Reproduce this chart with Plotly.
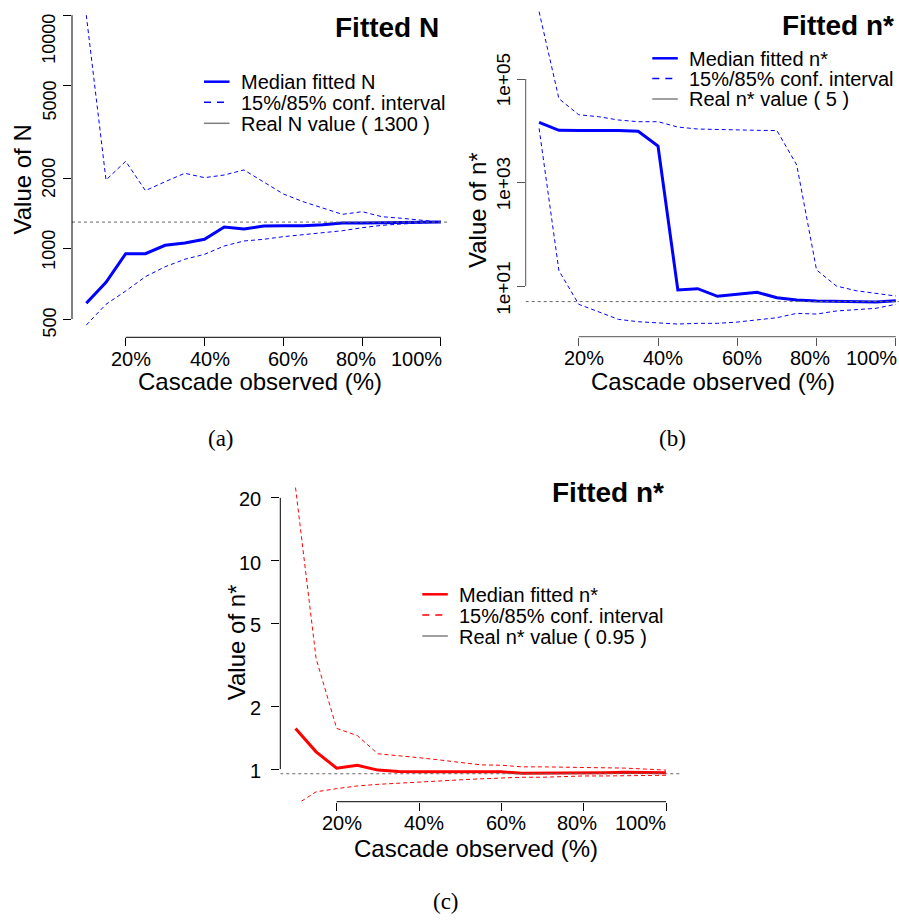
import math
import plotly.graph_objects as go

W, H = 899, 920
FONT = "Liberation Sans"

# share of the cascade observed (%)
observed = [10, 15, 20, 25, 30, 35, 40, 45, 50, 55, 60, 65, 70, 75, 80, 85, 90, 95, 100]
x_ticks = [20, 40, 60, 80, 100]
x_tick_text = ["20%", "40%", "60%", "80%", "100%"]
x_label_pos = [21.4, 41.3, 61.1, 78.4, 93.8]

# (a) fitted N
N_median = [584, 718, 952, 952, 1034, 1058, 1097, 1238, 1214, 1251, 1255, 1255, 1267, 1288, 1288, 1292, 1300, 1300, 1300]
N_upper = [10000, 1969, 2368, 1773, 1936, 2104, 2015, 2068, 2174, 1936, 1716, 1590, 1490, 1403, 1441, 1371, 1350, 1327, 1300]
N_lower = [471, 578, 659, 759, 837, 901, 946, 1027, 1079, 1097, 1126, 1148, 1171, 1194, 1230, 1259, 1276, 1288, 1300]
N_real = 1300
N_ticks = [500, 1000, 2000, 5000, 10000]
N_tick_text = ["500", "1000", "2000", "5000", "10000"]

# (b) fitted n* (real value 5)
nb_median = [14550, 10200, 10150, 10150, 10150, 9750, 5070, 8.37, 8.87, 6.32, 6.90, 7.55, 5.94, 5.36, 5.13, 5.08, 4.93, 4.93, 5.2]
nb_upper = [2.0e6, 41700, 20400, 18700, 16150, 14960, 14960, 11800, 10800, 10500, 10300, 10200, 10100, 2180, 20.4, 10.0, 8.1, 7.2, 6.4]
nb_lower = [11140, 19.8, 4.43, 3.19, 2.27, 2.04, 1.95, 1.84, 1.9, 1.9, 2.01, 2.20, 2.44, 2.96, 2.87, 3.29, 3.44, 3.71, 4.43]
nb_real = 5
nb_ticks = [10, 1000, 100000]
nb_tick_text = ["1e+01", "1e+03", "1e+05"]

# (c) fitted n* (real value 0.95)
nc_median = [1.567, 1.21, 1.01, 1.044, 0.989, 0.975, 0.972, 0.972, 0.965, 0.968, 0.972, 0.954, 0.954, 0.958, 0.958, 0.961, 0.965, 0.965, 0.961]
nc_upper = [22.4, 3.39, 1.567, 1.448, 1.184, 1.154, 1.134, 1.106, 1.075, 1.048, 1.044, 1.025, 1.025, 1.022, 1.022, 1.018, 1.011, 1.0, 0.989]
nc_lower = [0.673, 0.778, 0.806, 0.83, 0.845, 0.857, 0.863, 0.876, 0.888, 0.898, 0.908, 0.914, 0.914, 0.921, 0.927, 0.927, 0.931, 0.931, 0.934]
nc_real = 0.95
nc_ticks = [1, 2, 5, 10, 20]
nc_tick_text = ["1", "2", "5", "10", "20"]


def px_x(p):
    return p / W


def px_y(p):
    return 1 - p / H


# panel geometry in pixels: (left, right, top, bottom), x range, log10 y range
panels = [
    dict(box=(72, 450, 0, 337.3), xr=[6.37, 102.3], yr=[2.6206, 4.065], color="blue",
         axcol="#000000", rotate=True, yt=N_ticks, ytt=N_tick_text, ysize=18,
         ynudge=[4, 1.5, 0, 15.5, 24], yoff=22.5,
         data=(N_median, N_upper, N_lower, N_real),
         title="Fitted N", ylab="Value of N",
         leg=["Median fitted N", "15%/85% conf. interval", "Real N value ( 1300 )"],
         leg_x=204, leg_y=[81.7, 102.3, 123.3], ylab_pos=(22.5, 180), xlab_pos=(259.5, 381),
         title_y=27.5, caption="(a)", cap_pos=(221, 438)),
    dict(box=(525.7, 899, 0, 336.7), xr=[6.62, 100.8], yr=[0.0203, 6.527], color="blue",
         axcol="#555555", rotate=True, yt=nb_ticks, ytt=nb_tick_text, ysize=19,
         ynudge=[2.5, 1.5, 1], yoff=22.4,
         data=(nb_median, nb_upper, nb_lower, nb_real),
         title="Fitted n*", ylab="Value of n*",
         leg=["Median fitted n*", "15%/85% conf. interval", "Real n* value ( 5 )"],
         leg_x=652.3, leg_y=[58.3, 78.6, 99], ylab_pos=(477, 210), xlab_pos=(713.3, 381),
         title_y=25, caption="(b)", cap_pos=(672, 438)),
    dict(box=(280.3, 680, 474, 801.7), xr=[6.30, 103.4], yr=[-0.1564, 1.4155], color="red",
         axcol="#000000", rotate=False, yt=nc_ticks, ytt=nc_tick_text, ysize=20,
         ynudge=[1.5, 1.5, 1.5, 2, 1.5], yoff=17,
         data=(nc_median, nc_upper, nc_lower, nc_real),
         title="Fitted n*", ylab="Value of n*",
         leg=["Median fitted n*", "15%/85% conf. interval", "Real n* value ( 0.95 )"],
         leg_x=422.3, leg_y=[594.3, 615, 636], ylab_pos=(236.7, 642.5), xlab_pos=(476, 848),
         title_y=492, caption="(c)", cap_pos=(445.7, 901.5)),
]

fig = go.Figure()
annotations = []
shapes = []
layout = {}

for i, p in enumerate(panels, start=1):
    sx = "" if i == 1 else str(i)
    xa, ya = "x" + sx, "y" + sx
    left, right, top, bottom = p["box"]
    med, up, lo, real = p["data"]
    col = p["color"]

    for ys, width, dash in [(up, 1, "4px,3px"), (lo, 1, "4px,3px"), (med, 3, "solid")]:
        fig.add_trace(go.Scatter(x=observed, y=ys, mode="lines", xaxis=xa, yaxis=ya,
                                 line=dict(color=col, width=width, dash=dash),
                                 showlegend=False, hoverinfo="skip"))
    # real value reference line across the plot region
    fig.add_trace(go.Scatter(x=[p["xr"][0], p["xr"][1]], y=[real, real], mode="lines",
                             xaxis=xa, yaxis=ya, showlegend=False, hoverinfo="skip",
                             line=dict(color="#666666", width=1, dash="3px,3px")))

    layout["xaxis" + sx] = dict(domain=[px_x(left), px_x(right)], range=p["xr"], anchor=ya,
                                showgrid=False, zeroline=False, showline=False,
                                tickmode="array", tickvals=x_ticks, showticklabels=False,
                                ticks="outside", ticklen=8, tickwidth=1, tickcolor=p["axcol"])
    layout["yaxis" + sx] = dict(domain=[px_y(bottom), px_y(top)], type="log", range=p["yr"],
                                anchor=xa, showgrid=False, zeroline=False, showline=False,
                                tickmode="array", tickvals=p["yt"], showticklabels=False,
                                ticks="outside", ticklen=8, tickwidth=1, tickcolor=p["axcol"])

    # axis lines spanning only the tick range
    shapes.append(dict(type="line", xref=xa, yref=ya + " domain", x0=x_ticks[0], x1=x_ticks[-1],
                       y0=0, y1=0, line=dict(color=p["axcol"], width=1)))
    shapes.append(dict(type="line", xref=xa + " domain", yref=ya, x0=0, x1=0,
                       y0=p["yt"][0], y1=p["yt"][-1], line=dict(color=p["axcol"], width=1)))

    # y tick labels
    for tv, tt, nd in zip(p["yt"], p["ytt"], p["ynudge"]):
        if p["rotate"]:
            annotations.append(dict(text=tt, xref=xa + " domain", yref=ya, x=0, y=math.log10(tv),
                                    xshift=-p["yoff"], yshift=-nd, textangle=-90,
                                    xanchor="center", yanchor="middle", showarrow=False,
                                    font=dict(family=FONT, size=p["ysize"], color="black")))
        else:
            annotations.append(dict(text=tt, xref=xa + " domain", yref=ya, x=0, y=math.log10(tv),
                                    xshift=-p["yoff"], yshift=-nd,
                                    xanchor="right", yanchor="middle", showarrow=False,
                                    font=dict(family=FONT, size=p["ysize"], color="black")))
    # x tick labels
    for lx, lt in zip(x_label_pos, x_tick_text):
        annotations.append(dict(text=lt, xref=xa, yref=ya + " domain", x=lx, y=0, yshift=-21.5,
                                xanchor="center", yanchor="middle", showarrow=False,
                                font=dict(family=FONT, size=20, color="black")))
    # axis titles
    annotations.append(dict(text="Cascade observed (%)", xref="paper", yref="paper",
                            x=px_x(p["xlab_pos"][0]), y=px_y(p["xlab_pos"][1]),
                            xanchor="center", yanchor="middle", showarrow=False,
                            font=dict(family=FONT, size=24, color="black")))
    annotations.append(dict(text=p["ylab"], xref="paper", yref="paper", textangle=-90,
                            x=px_x(p["ylab_pos"][0]), y=px_y(p["ylab_pos"][1]),
                            xanchor="center", yanchor="middle", showarrow=False,
                            font=dict(family=FONT, size=24, color="black")))
    # panel title
    annotations.append(dict(text="<b>" + p["title"] + "</b>", xref=xa, yref="paper",
                            x=100, y=px_y(p["title_y"]), xanchor="right", yanchor="middle",
                            showarrow=False, font=dict(family=FONT, size=28, color="black")))
    # caption
    annotations.append(dict(text=p["caption"], xref="paper", yref="paper",
                            x=px_x(p["cap_pos"][0]), y=px_y(p["cap_pos"][1]),
                            xanchor="center", yanchor="middle", showarrow=False,
                            font=dict(family="Liberation Serif", size=23, color="black")))

    # legend
    lx0 = p["leg_x"]
    styles = [(col, 2.5, "solid"), (col, 1.5, "7px,6px"), ("#7f7f7f", 1.5, "solid")]
    for (lc, lw, ld), ly, txt in zip(styles, p["leg_y"], p["leg"]):
        shapes.append(dict(type="line", xref="paper", yref="paper",
                           x0=px_x(lx0), x1=px_x(lx0 + 25.5), y0=px_y(ly), y1=px_y(ly),
                           line=dict(color=lc, width=lw, dash=ld)))
        annotations.append(dict(text=txt, xref="paper", yref="paper",
                                x=px_x(lx0 + 35), y=px_y(ly + 0.5), xanchor="left",
                                yanchor="middle", showarrow=False,
                                font=dict(family=FONT, size=20, color="black")))

fig.update_layout(width=W, height=H, margin=dict(l=0, r=0, t=0, b=0),
                  paper_bgcolor="white", plot_bgcolor="white",
                  annotations=annotations, shapes=shapes, **layout)

fig.write_html("out.html")
